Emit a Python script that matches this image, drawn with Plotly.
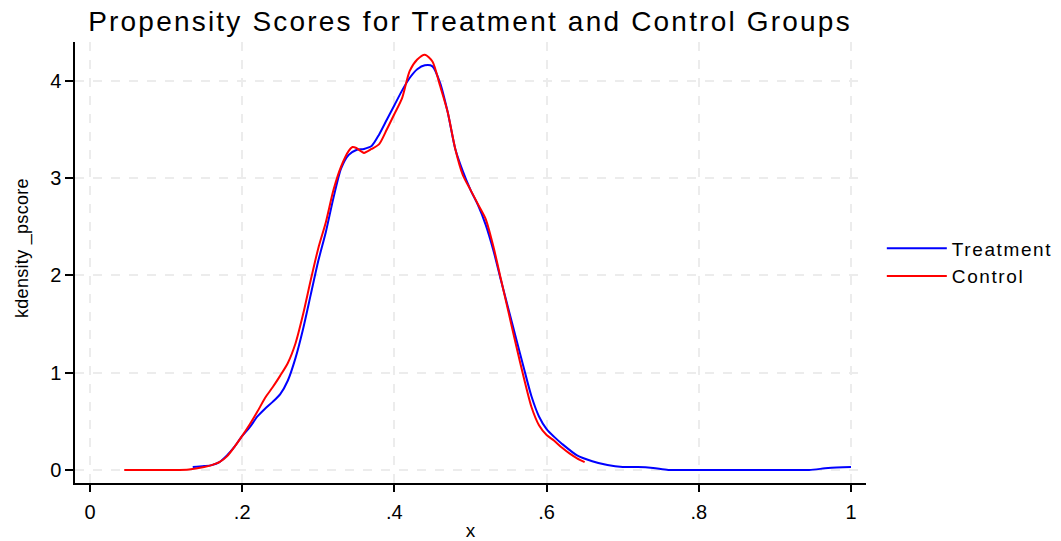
import plotly.graph_objects as go

# Treatment kernel density
treat_x = [0.135, 0.15, 0.16, 0.17, 0.18, 0.19, 0.20, 0.21, 0.22, 0.23, 0.24, 0.25, 0.26, 0.27,
           0.28, 0.29, 0.30, 0.31, 0.32, 0.33, 0.34, 0.35, 0.36, 0.37, 0.38, 0.39, 0.40, 0.41,
           0.42, 0.43, 0.44, 0.45, 0.46, 0.47, 0.48, 0.49, 0.50, 0.51, 0.52, 0.53, 0.54, 0.55,
           0.56, 0.57, 0.58, 0.59, 0.60, 0.61, 0.62, 0.64, 0.66, 0.68, 0.70, 0.72, 0.74, 0.76,
           0.80, 0.85, 0.90, 0.945, 0.97, 1.0]
treat_y = [0.03, 0.04, 0.05, 0.08, 0.15, 0.24, 0.35, 0.44, 0.55, 0.63, 0.70, 0.78, 0.92, 1.15,
           1.45, 1.80, 2.15, 2.45, 2.80, 3.10, 3.24, 3.29, 3.30, 3.33, 3.45, 3.60, 3.75, 3.90,
           4.03, 4.12, 4.16, 4.15, 3.98, 3.68, 3.30, 3.07, 2.88, 2.72, 2.52, 2.26, 1.95, 1.65,
           1.35, 1.05, 0.76, 0.55, 0.42, 0.34, 0.27, 0.15, 0.09, 0.05, 0.03, 0.03, 0.02, 0.0,
           0.0, 0.0, 0.0, 0.0, 0.02, 0.03]

# Control kernel density
ctrl_x = [0.045, 0.08, 0.11, 0.13, 0.15, 0.16, 0.17, 0.18, 0.19, 0.20, 0.21, 0.22, 0.23, 0.24,
          0.25, 0.26, 0.27, 0.28, 0.29, 0.30, 0.31, 0.32, 0.33, 0.34, 0.345, 0.35, 0.36, 0.37,
          0.38, 0.39, 0.40, 0.41, 0.42, 0.43, 0.44, 0.45, 0.46, 0.47, 0.48, 0.49, 0.50, 0.51,
          0.52, 0.53, 0.54, 0.55, 0.56, 0.57, 0.58, 0.59, 0.60, 0.61, 0.62, 0.63, 0.64, 0.65]
ctrl_y = [0.0, 0.0, 0.0, 0.005, 0.03, 0.05, 0.08, 0.14, 0.24, 0.35, 0.47, 0.60, 0.74, 0.85,
          0.97, 1.10, 1.30, 1.60, 1.95, 2.28, 2.55, 2.88, 3.12, 3.28, 3.32, 3.31, 3.26, 3.30,
          3.35, 3.50, 3.66, 3.82, 4.10, 4.22, 4.27, 4.20, 3.95, 3.68, 3.30, 3.03, 2.88, 2.73,
          2.58, 2.30, 1.96, 1.62, 1.28, 0.95, 0.65, 0.46, 0.36, 0.30, 0.23, 0.17, 0.12, 0.08]

x_ticks = [0, 0.2, 0.4, 0.6, 0.8, 1.0]
x_tick_labels = ["0", ".2", ".4", ".6", ".8", "1"]
y_ticks = [0, 1, 2, 3, 4]
y_tick_labels = ["0", "1", "2", "3", "4"]

title_text = "Propensity Scores for Treatment and Control Groups"
x_title = "x"
y_title = "kdensity _pscore"


def spaced(s, px):
    return f'<span style="letter-spacing:{px}px">{s}</span>'


fig = go.Figure()
fig.add_trace(go.Scatter(x=treat_x, y=treat_y, mode="lines", name=spaced("Treatment", 1.6),
                         line=dict(color="#0000ff", width=2, shape="spline", smoothing=0.7)))
fig.add_trace(go.Scatter(x=ctrl_x, y=ctrl_y, mode="lines", name=spaced("Control", 1.6),
                         line=dict(color="#ff0000", width=2, shape="spline", smoothing=0.7)))

font_family = "Liberation Sans, Arial, sans-serif"
fig.update_layout(
    width=1061, height=541,
    margin=dict(l=75, r=195, t=42, b=58, autoexpand=False),
    paper_bgcolor="white", plot_bgcolor="white",
    font=dict(family=font_family, size=20, color="black"),
    title=dict(text=spaced(title_text, 2.2),
               x=0.443, xanchor="center", y=0.96, yanchor="middle",
               font=dict(size=28, color="black")),
    legend=dict(x=1.02, y=0.5, xanchor="left", yanchor="middle", itemwidth=60,
                font=dict(size=19), bgcolor="rgba(0,0,0,0)", tracegroupgap=0),
    xaxis=dict(range=[-0.0197, 1.0197], tickvals=x_ticks, ticktext=x_tick_labels,
               showline=True, linecolor="black", linewidth=1.5, mirror=False,
               ticks="outside", ticklen=7, tickcolor="black", tickwidth=1.5,
               ticklabelstandoff=3, automargin=False,
               showgrid=True, gridcolor="#ececec", griddash="dash", gridwidth=2,
               zeroline=False, tickfont=dict(size=20),
               title=dict(text=x_title, font=dict(size=19), standoff=13)),
    yaxis=dict(range=[-0.134, 4.40], tickvals=y_ticks, ticktext=y_tick_labels,
               showline=True, linecolor="black", linewidth=1.5, mirror=False,
               ticks="outside", ticklen=8, tickcolor="black", tickwidth=1.5,
               automargin=False,
               showgrid=True, gridcolor="#ececec", griddash="dash", gridwidth=2,
               zeroline=False, tickfont=dict(size=20)),
    annotations=[dict(text=spaced(y_title, 0.3), textangle=-90, xref="paper", yref="paper",
                      x=(22 - 75) / 791, y=(483 - 248) / 441, xanchor="center", yanchor="middle",
                      showarrow=False, font=dict(size=18, color="black"))],
)

fig.write_html("out.html")
